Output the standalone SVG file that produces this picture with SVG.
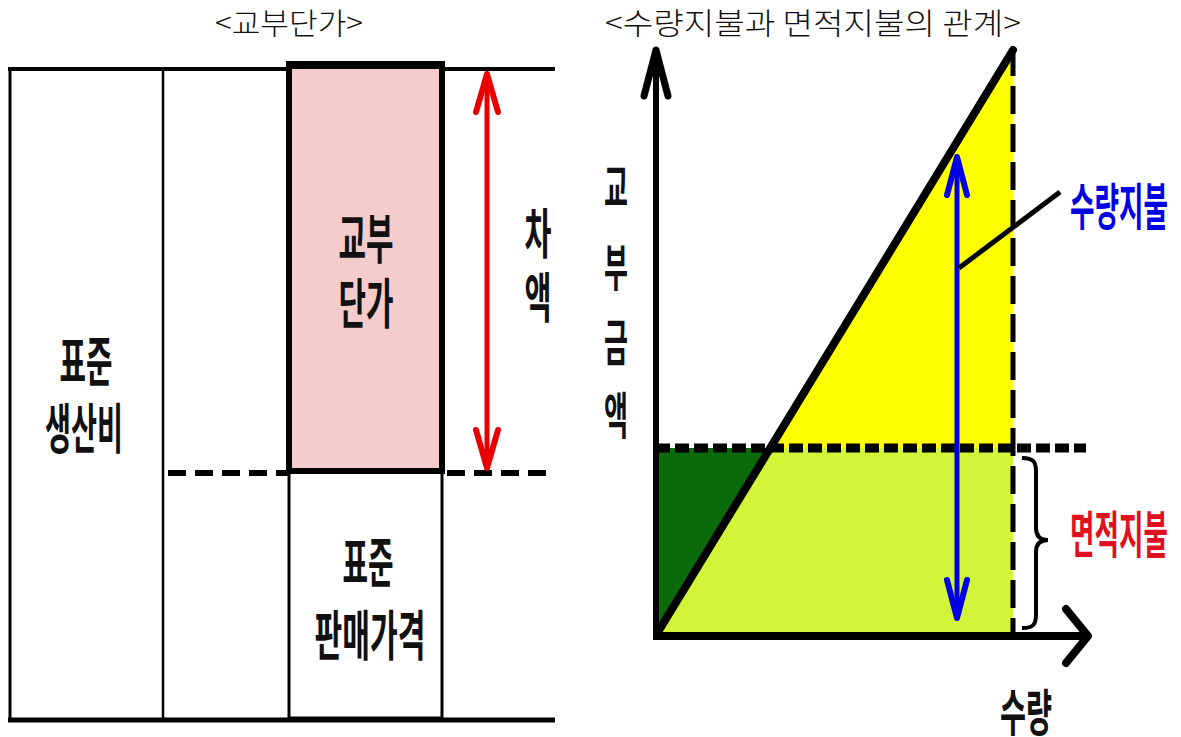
<svg xmlns="http://www.w3.org/2000/svg" width="1181" height="737" viewBox="0 0 1181 737">
<style>
.title{font-family:"Noto Sans CJK KR","Liberation Serif",serif;font-size:30px;font-weight:300;fill:#111}
.lbl{font-family:"Noto Sans CJK KR","Liberation Sans",sans-serif;font-weight:700;font-size:54px;fill:#111;text-anchor:middle}
.ylbl{font-size:50px}
.side{font-size:50px}
.ln{stroke:#000;fill:none}
</style>
<defs>
<marker id="chevR" markerUnits="userSpaceOnUse" viewBox="-44 -16 50 32" markerWidth="50" markerHeight="32" refX="0" refY="0" orient="auto-start-reverse">
<path d="M-38,-11 L0,0 L-38,11" fill="none" stroke="#e80000" stroke-width="6" stroke-linecap="round" stroke-linejoin="round"/>
</marker>
<marker id="chevB" markerUnits="userSpaceOnUse" viewBox="-44 -16 50 32" markerWidth="50" markerHeight="32" refX="0" refY="0" orient="auto-start-reverse">
<path d="M-38,-10 L0,0 L-38,10" fill="none" stroke="#0000e6" stroke-width="6" stroke-linecap="round" stroke-linejoin="round"/>
</marker>
<marker id="chevY" markerUnits="userSpaceOnUse" viewBox="-56 -18 62 36" markerWidth="62" markerHeight="36" refX="0" refY="0" orient="auto">
<path d="M-46,-12 L0,0 L-46,12" fill="none" stroke="#000" stroke-width="7" stroke-linecap="round" stroke-linejoin="round"/>
</marker>
<marker id="chevX" markerUnits="userSpaceOnUse" viewBox="-32 -34 38 68" markerWidth="38" markerHeight="68" refX="0" refY="0" orient="auto">
<path d="M-22,-27 L0,0 L-22,27" fill="none" stroke="#000" stroke-width="8" stroke-linecap="round" stroke-linejoin="round"/>
</marker>
</defs>
<rect width="1181" height="737" fill="#fff"/>

<!-- Titles -->
<text class="title" x="289" y="34" text-anchor="middle" textLength="148" lengthAdjust="spacingAndGlyphs">&lt;교부단가&gt;</text>
<text class="title" x="813" y="34" text-anchor="middle" textLength="416" lengthAdjust="spacingAndGlyphs">&lt;수량지불과 면적지불의 관계&gt;</text>

<!-- LEFT DIAGRAM -->
<g id="frame-left">
<line class="ln" x1="8" y1="69" x2="555" y2="69" stroke-width="4"/>
<line class="ln" x1="8" y1="720" x2="555" y2="720" stroke-width="5"/>
<line class="ln" x1="10" y1="69" x2="10" y2="720" stroke-width="3"/>
<line class="ln" x1="163" y1="69" x2="163" y2="720" stroke-width="2.5"/>
</g>
<g id="node-standard-cost">
<text class="lbl" x="86" y="382" textLength="53" lengthAdjust="spacingAndGlyphs">표준</text>
<text class="lbl" x="84" y="449" textLength="78" lengthAdjust="spacingAndGlyphs">생산비</text>
</g>
<g id="node-standard-price">
<rect x="289" y="472" width="153" height="246" fill="#fff" stroke="#000" stroke-width="3"/>
<text class="lbl" x="368" y="583" textLength="51" lengthAdjust="spacingAndGlyphs">표준</text>
<text class="lbl" x="370" y="656" textLength="111" lengthAdjust="spacingAndGlyphs">판매가격</text>
</g>
<g id="node-subsidy-unit">
<rect x="289" y="66" width="153" height="405" fill="#f4cccc" stroke="#000" stroke-width="6"/>
<line class="ln" x1="286" y1="65" x2="445" y2="65" stroke-width="8"/>
<text class="lbl" x="366" y="259" textLength="55" lengthAdjust="spacingAndGlyphs">교부</text>
<text class="lbl" x="366" y="324" textLength="55" lengthAdjust="spacingAndGlyphs">단가</text>
</g>
<g id="connectors-left">
<line class="ln" x1="168" y1="473" x2="288" y2="473" stroke-width="6" stroke-dasharray="18 9"/>
<line class="ln" x1="447" y1="473" x2="552" y2="473" stroke-width="6" stroke-dasharray="18 9"/>
<line x1="487" y1="74" x2="487" y2="468" stroke="#e80000" stroke-width="5" marker-start="url(#chevR)" marker-end="url(#chevR)"/>
</g>
<g id="label-diff">
<text class="lbl" x="538" y="254" textLength="27" lengthAdjust="spacingAndGlyphs">차</text>
<text class="lbl" x="538" y="318" textLength="27" lengthAdjust="spacingAndGlyphs">액</text>
</g>

<!-- RIGHT DIAGRAM -->
<g id="areas">
<polygon points="769,448 1013,50 1013,448" fill="#ffff00"/>
<polygon points="769,448 1013,448 1013,634 656,634" fill="#d2f53a"/>
<polygon points="656,448 769,448 656,634" fill="#0b6b0b"/>
</g>
<g id="axes">
<line class="ln" x1="656" y1="638" x2="656" y2="50" stroke-width="6" marker-end="url(#chevY)"/>
<line class="ln" x1="653" y1="636" x2="1088" y2="636" stroke-width="8" marker-end="url(#chevX)"/>
</g>
<g id="connectors-right">
<line class="ln" x1="656" y1="448" x2="1086" y2="448" stroke-width="9" stroke-dasharray="14 5"/>
<line class="ln" x1="1013" y1="48" x2="1013" y2="632" stroke-width="5" stroke-dasharray="28 10"/>
<line class="ln" x1="658" y1="632" x2="1013" y2="50" stroke-width="8" stroke-linecap="round"/>
<line x1="957" y1="157" x2="957" y2="618" stroke="#0000e6" stroke-width="5" marker-start="url(#chevB)" marker-end="url(#chevB)"/>
<line class="ln" x1="959" y1="268" x2="1060" y2="192" stroke-width="5"/>
<path class="ln" d="M1022,458 C1034,458 1036,462 1036,472 L1036,528 C1036,536 1040,540 1048,540 C1040,540 1036,544 1036,552 L1036,614 C1036,624 1034,628 1022,628" stroke-width="4"/>
</g>
<g id="label-quantity-pay">
<text class="lbl side" x="1119" y="225" textLength="98" lengthAdjust="spacingAndGlyphs" style="fill:#0000e6">수량지불</text>
</g>
<g id="label-area-pay">
<text class="lbl side" x="1119" y="553" textLength="98" lengthAdjust="spacingAndGlyphs" style="fill:#e01020">면적지불</text>
</g>
<g id="label-x">
<text class="lbl side" x="1026" y="731" textLength="52" lengthAdjust="spacingAndGlyphs">수량</text>
</g>
<g id="label-y">
<text class="lbl ylbl" x="616" y="206" textLength="24" lengthAdjust="spacingAndGlyphs">교</text>
<text class="lbl ylbl" x="616" y="286" textLength="24" lengthAdjust="spacingAndGlyphs">부</text>
<text class="lbl ylbl" x="616" y="361" textLength="24" lengthAdjust="spacingAndGlyphs">금</text>
<text class="lbl ylbl" x="616" y="434" textLength="24" lengthAdjust="spacingAndGlyphs">액</text>
</g>
</svg>
